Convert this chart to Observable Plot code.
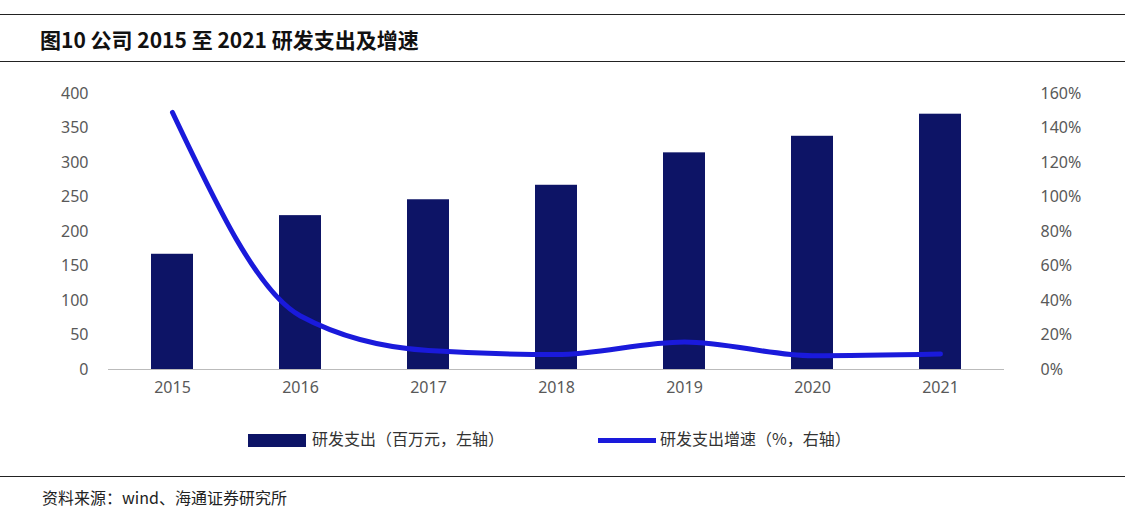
<!DOCTYPE html>
<html><head><meta charset="utf-8">
<script src="https://cdn.jsdelivr.net/npm/d3@7"></script>
<script src="https://cdn.jsdelivr.net/npm/@observablehq/plot@0.6"></script>
<style>
body{margin:0;width:1125px;height:523px;background:#fff;font-family:"Noto Sans CJK SC","Noto Sans",sans-serif;position:relative;overflow:hidden}
#t{position:absolute;left:0;top:14px;width:1125px;height:48px;border-top:1.5px solid #222;border-bottom:1.5px solid #222;font-weight:bold;font-size:21px;line-height:48px;padding-left:40px;box-sizing:border-box;color:#111}
#c{position:absolute;left:0;top:70px}
#lg{position:absolute;top:426px;left:0;width:1125px;font-size:16px;color:#333}
#src{position:absolute;left:0;top:476px;width:1125px;border-top:1.5px solid #222;padding:8px 0 0 42px;box-sizing:border-box;font-size:16px;color:#222}
</style></head><body>
<div id="t">图10 公司 2015 至 2021 研发支出及增速</div>
<div id="c"></div>
<div id="lg">
<span style="position:absolute;left:248px;top:8px;width:58px;height:13px;background:#0d1466"></span>
<span style="position:absolute;left:312px;top:0">研发支出（百万元，左轴）</span>
<span style="position:absolute;left:598px;top:12px;width:58px;height:5px;background:#1a1adb"></span>
<span style="position:absolute;left:660px;top:0">研发支出增速（%，右轴）</span>
</div>
<div id="src">资料来源：wind、海通证券研究所</div>
<script>
const years=["2015","2016","2017","2018","2019","2020","2021"];
const spend=[167,223,246,267,314,338,370];
const growth=[149,31,11,8.7,16,8,9];
const leftTicks=[0,50,100,150,200,250,300,350,400];
const data=years.map((y,i)=>({year:y,spend:spend[i],g:growth[i]*400/160}));
const p=Plot.plot({
 width:1125,height:340,marginTop:23,marginBottom:41,marginLeft:108,marginRight:121,
 style:{fontSize:"16px",color:"#595959",fontFamily:"Noto Sans, sans-serif"},
 x:{domain:years,paddingInner:0.67,paddingOuter:0.335,label:null},
 y:{domain:[0,400],label:null},
 marks:[
  Plot.axisX({tickSize:0,tickPadding:12,label:null}),
  Plot.axisY({ticks:leftTicks,tickSize:0,tickPadding:20,label:null}),
  Plot.axisY({anchor:"right",ticks:leftTicks,tickSize:0,tickPadding:36,textAnchor:"start",tickFormat:d=>(d*160/400)+"%",label:null}),
  Plot.ruleY([0],{stroke:"#bbb"}),
  Plot.barY(data,{x:"year",y:"spend",fill:"#0d1466"}),
  Plot.line(data,{x:"year",y:"g",stroke:"#1a1adb",strokeWidth:5,curve:"monotone-x"})
 ]});
document.getElementById("c").append(p);
</script></body></html>
